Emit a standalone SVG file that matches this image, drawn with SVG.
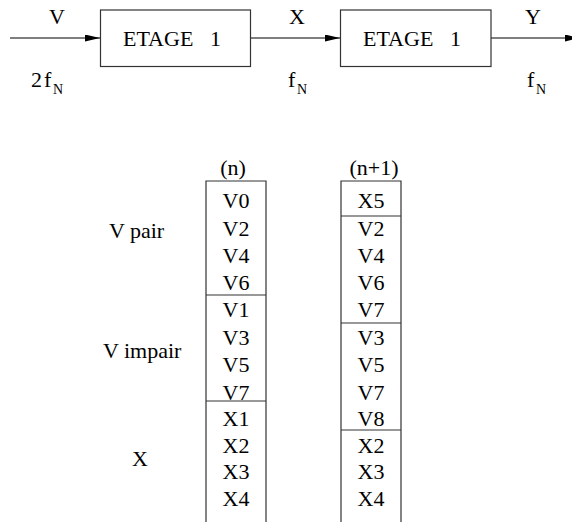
<svg xmlns="http://www.w3.org/2000/svg" width="572" height="522" viewBox="0 0 572 522">
<style>
text{font-family:"Liberation Serif","Times New Roman",serif;font-size:22px;fill:#000}
.m{text-anchor:middle}
.sub{font-size:14px}
.box{fill:#fff;stroke:#333;stroke-width:1.2}
.ln{stroke:#000;stroke-width:1.2;fill:none}
.col{stroke:#333;stroke-width:1.2;fill:none}
</style>
<defs>
<marker id="ah" markerUnits="userSpaceOnUse" markerWidth="16" markerHeight="8" refX="15" refY="3.5" orient="auto">
<path d="M0,0 L15,3.5 L0,7 z" fill="#000"/>
</marker>
</defs>
<g id="connectors">
<line class="ln" x1="10" y1="38" x2="100" y2="38" marker-end="url(#ah)"/>
<line class="ln" x1="250" y1="38" x2="340" y2="38" marker-end="url(#ah)"/>
<line class="ln" x1="491" y1="38" x2="580" y2="38" marker-end="url(#ah)"/>
</g>
<g id="stage1">
<rect class="box" x="100.5" y="10" width="150" height="56.5"/>
<text x="123" y="46">ETAGE <tspan x="210">1</tspan></text>
</g>
<g id="stage2">
<rect class="box" x="340.5" y="10" width="150.5" height="56.5"/>
<text x="363" y="46">ETAGE <tspan x="450">1</tspan></text>
</g>
<g id="labels">
<text class="m" x="57" y="24">V</text>
<text class="m" x="297" y="24">X</text>
<text class="m" x="533" y="24">Y</text>
<text x="31" y="87">2<tspan x="44">f</tspan><tspan class="sub" x="53" dy="7">N</tspan></text>
<text x="288" y="87">f<tspan class="sub" x="297" dy="7">N</tspan></text>
<text x="527" y="87">f<tspan class="sub" x="536" dy="7">N</tspan></text>
<text class="m" x="233" y="175">(n)</text>
<text class="m" x="374" y="175">(n+1)</text>
<text x="109" y="238">V pair</text>
<text x="103" y="358">V impair</text>
<text x="132" y="466">X</text>
</g>
<g id="column-n">
<path class="col" d="M206,522 V181 H266 V522 M206,295 H266 M206,401 H266"/>
<text class="m" x="236" y="208">V0</text>
<text class="m" x="236" y="236">V2</text>
<text class="m" x="236" y="263">V4</text>
<text class="m" x="236" y="290">V6</text>
<text class="m" x="236" y="317">V1</text>
<text class="m" x="236" y="345">V3</text>
<text class="m" x="236" y="372">V5</text>
<text class="m" x="236" y="400">V7</text>
<text class="m" x="236" y="426">X1</text>
<text class="m" x="236" y="453">X2</text>
<text class="m" x="236" y="479">X3</text>
<text class="m" x="236" y="506">X4</text>
</g>
<g id="column-n1">
<path class="col" d="M341,522 V181 H401 V522 M341,216 H401 M341,323 H401 M341,430 H401"/>
<text class="m" x="371" y="208">X5</text>
<text class="m" x="371" y="236">V2</text>
<text class="m" x="371" y="263">V4</text>
<text class="m" x="371" y="290">V6</text>
<text class="m" x="371" y="317">V7</text>
<text class="m" x="371" y="345">V3</text>
<text class="m" x="371" y="372">V5</text>
<text class="m" x="371" y="400">V7</text>
<text class="m" x="371" y="426">V8</text>
<text class="m" x="371" y="453">X2</text>
<text class="m" x="371" y="479">X3</text>
<text class="m" x="371" y="506">X4</text>
</g>
</svg>
